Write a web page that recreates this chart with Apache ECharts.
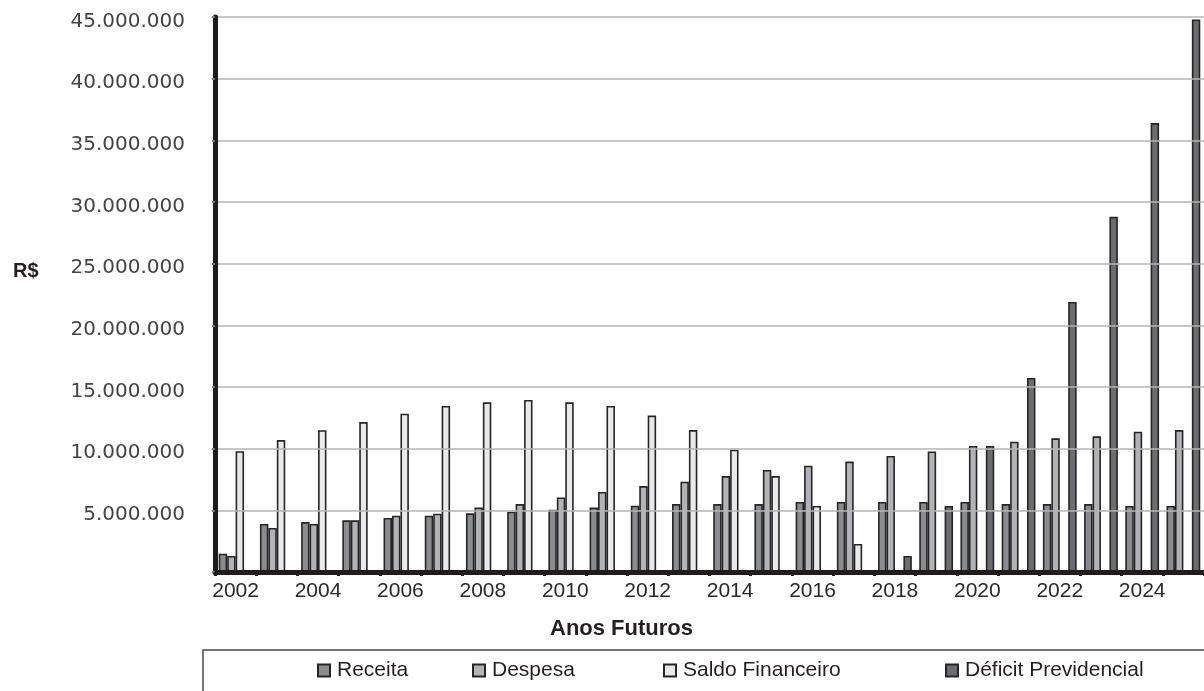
<!DOCTYPE html>
<html>
<head>
<meta charset="utf-8">
<script src="https://cdn.jsdelivr.net/npm/echarts@6/dist/echarts.min.js"></script>
<style>
  html, body { margin: 0; padding: 0; background: #fff; }
  #chart { width: 1204px; height: 691px; }
</style>
</head>
<body>
<div id="chart"></div>
<script>
// Projection years
const anos = ['2002','2003','2004','2005','2006','2007','2008','2009','2010','2011','2012','2013',
              '2014','2015','2016','2017','2018','2019','2020','2021','2022','2023','2024','2025'];

// Values in R$
const receita = [1480000,3890000,4050000,4190000,4380000,4570000,4760000,4890000,5050000,5220000,5380000,5510000,
                 5510000,5510000,5680000,5680000,5680000,5680000,5680000,5510000,5510000,5510000,5350000,5350000];
const despesa = [1300000,3570000,3890000,4190000,4570000,4730000,5220000,5510000,6050000,6490000,6970000,7320000,
                 7780000,8270000,8620000,8950000,9410000,9780000,10220000,10570000,10840000,11000000,11380000,11510000];
const saldoFinanceiro = [9790000,10700000,11500000,12160000,12840000,13460000,13760000,13950000,13760000,13460000,12680000,11510000,
                         9920000,7780000,5350000,2270000,0,0,0,0,0,0,0,0];
const deficitPrevidencial = [0,0,0,0,0,0,0,0,0,0,0,0,
                             0,0,0,0,1300000,5350000,10220000,15730000,21900000,28800000,36400000,44800000];

const yTicksMax = 45000000;
const yTickStep = 5000000;

const seriesNames = ['Receita', 'Despesa', 'Saldo Financeiro', 'Déficit Previdencial'];
const seriesColors = ['#8b8c8f', '#b2b3b6', '#e9e9eb', '#6c6d71'];
const seriesData = [receita, despesa, saldoFinanceiro, deficitPrevidencial];

// Brazilian thousands separator
function fmtBR(v) {
  return String(v).replace(/\B(?=(\d{3})+(?!\d))/g, '.');
}

const sansFont = "'Liberation Sans', Arial, sans-serif";
const legendLefts = [317, 472, 663, 945];

const chart = echarts.init(document.getElementById('chart'), null, { renderer: 'canvas' });

chart.setOption({
  backgroundColor: '#ffffff',
  animation: false,
  grid: { left: 215, right: 0, top: 17, bottom: 119, containLabel: false },
  xAxis: {
    type: 'category',
    data: anos,
    z: 5,
    axisLine: { show: true, lineStyle: { color: '#1e1c1d', width: 5 } },
    axisTick: { show: true, interval: 0, length: 4, lineStyle: { color: '#1e1c1d', width: 3 } },
    axisLabel: {
      interval: 1,
      margin: 9,
      fontFamily: sansFont,
      fontSize: 21,
      color: '#2a2829',
      verticalAlign: 'top',
      lineHeight: 21
    },
    splitLine: { show: false }
  },
  yAxis: {
    type: 'value',
    min: 0,
    max: yTicksMax,
    interval: yTickStep,
    z: 5,
    axisLine: { show: true, lineStyle: { color: '#1e1c1d', width: 5 } },
    axisTick: { show: true, length: 3, lineStyle: { color: '#777', width: 2 } },
    axisLabel: {
      margin: 30,
      fontFamily: "'DejaVu Sans', sans-serif",
      fontSize: 20,
      color: '#444',
      verticalAlign: 'top',
      lineHeight: 9,
      formatter: v => (v === 0 ? '' : fmtBR(v))
    },
    splitLine: { show: true, lineStyle: { color: '#b4b4b4', width: 1.5 } }
  },
  legend: seriesNames.map((name, i) => ({
    data: [name],
    left: legendLefts[i],
    top: 660,
    padding: 0,
    itemWidth: 12,
    itemHeight: 12,
    icon: 'rect',
    selectedMode: false,
    textStyle: { fontFamily: sansFont, fontSize: 21, color: '#231f20', padding: [0, 0, 0, 2] }
  })),
  series: seriesNames.map((name, i) => ({
    name: name,
    type: 'bar',
    data: seriesData[i],
    barGap: '0%',
    barCategoryGap: '18%',
    itemStyle: { color: seriesColors[i], borderColor: '#262425', borderWidth: 1.6 }
  })),
  graphic: [
    {
      type: 'rect',
      shape: { x: 203, y: 650, width: 1020, height: 60 },
      style: { fill: 'none', stroke: '#4a4a4a', lineWidth: 1.5 },
      silent: true
    },
    {
      type: 'text',
      x: 550,
      y: 629,
      style: {
        text: 'Anos Futuros',
        fontFamily: sansFont,
        fontWeight: 'bold',
        fontSize: 22,
        fill: '#231f20',
        verticalAlign: 'middle'
      }
    },
    {
      type: 'text',
      x: 13,
      y: 271,
      style: {
        text: 'R$',
        fontFamily: sansFont,
        fontWeight: 'bold',
        fontSize: 20,
        fill: '#231f20',
        verticalAlign: 'middle'
      }
    }
  ]
});
</script>
</body>
</html>
